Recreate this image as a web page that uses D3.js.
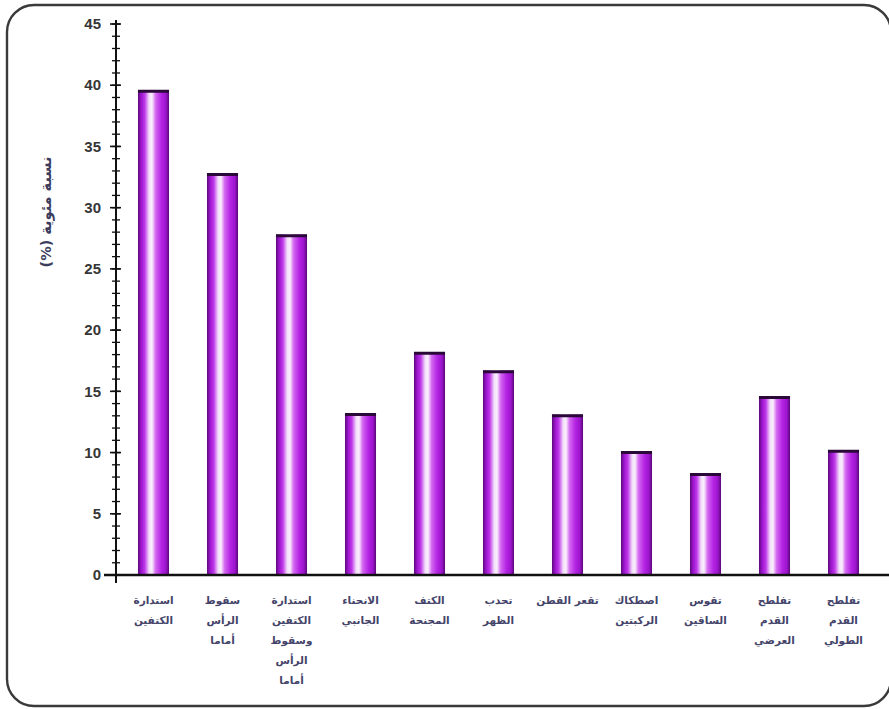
<!DOCTYPE html>
<html>
<head>
<meta charset="utf-8">
<script src="https://cdn.jsdelivr.net/npm/d3@7"></script>
<style>
  html, body { margin: 0; padding: 0; background: #ffffff; }
  svg { display: block; }
</style>
</head>
<body>
<svg id="chart" width="889" height="709"></svg>
<script>
// Posture deformities and their percentage share
const categories = [
  "استدارة الكتفين",
  "سقوط الرأس أماما",
  "استدارة الكتفين وسقوط الرأس أماما",
  "الانحناء الجانبي",
  "الكتف المجنحة",
  "تحدب الظهر",
  "تقعر القطن",
  "اصطكاك الركبتين",
  "تقوس الساقين",
  "تفلطح القدم العرضي",
  "تفلطح القدم الطولي"
];
const values = [39.6, 32.8, 27.8, 13.2, 18.2, 16.7, 13.1, 10.1, 8.3, 14.6, 10.2];
// Category labels as they wrap under each bar
const labelLines = [
  ["استدارة", "الكتفين"],
  ["سقوط", "الرأس", "أماما"],
  ["استدارة", "الكتفين", "وسقوط", "الرأس", "أماما"],
  ["الانحناء", "الجانبي"],
  ["الكتف", "المجنحة"],
  ["تحدب", "الظهر"],
  ["تقعر القطن"],
  ["اصطكاك", "الركبتين"],
  ["تقوس", "الساقين"],
  ["تفلطح", "القدم", "العرضي"],
  ["تفلطح", "القدم", "الطولي"]
];
const yTicks = [0, 5, 10, 15, 20, 25, 30, 35, 40, 45];
const yTitle = "نسبة مئوية (%)";

const svg = d3.select("#chart");

// Frame with rounded corners
const fx = 7, fy = 5, fw = 884, fh = 701, r = 27;
svg.append("rect")
  .attr("x", fx).attr("y", fy).attr("width", fw).attr("height", fh)
  .attr("rx", r).attr("ry", r)
  .attr("fill", "none").attr("stroke", "#3a3a3a").attr("stroke-width", 2.4);

const axisX = 116, yTop = 24, yBase = 575;

const x = d3.scaleBand()
  .domain(d3.range(categories.length))
  .range([119, 878])
  .paddingInner(0.55)
  .paddingOuter(0.275);

const y = d3.scaleLinear().domain([0, 45]).range([yBase, yTop]);

// Bar shading
const defs = svg.append("defs");
const grad = defs.append("linearGradient")
  .attr("id", "barGrad").attr("x1", "0%").attr("x2", "100%").attr("y1", "0%").attr("y2", "0%");
[
  [0, "#5c0a7a"], [0.1, "#9c14cc"], [0.22, "#c038ea"], [0.36, "#f2def9"],
  [0.45, "#faf0fd"], [0.57, "#d468f0"], [0.75, "#b424e4"], [0.9, "#9c14cc"], [1, "#5a0876"]
].forEach(([o, c]) => grad.append("stop").attr("offset", o).attr("stop-color", c));

const bars = svg.append("g");
bars.selectAll("rect.bar")
  .data(values)
  .join("rect")
  .attr("class", "bar")
  .attr("x", (d, i) => x(i))
  .attr("y", d => y(d))
  .attr("width", x.bandwidth())
  .attr("height", d => yBase - y(d))
  .attr("fill", "url(#barGrad)");

// Dark cap on each bar
bars.selectAll("line.cap")
  .data(values)
  .join("line")
  .attr("class", "cap")
  .attr("x1", (d, i) => x(i))
  .attr("x2", (d, i) => x(i) + x.bandwidth())
  .attr("y1", d => y(d) + 1.2)
  .attr("y2", d => y(d) + 1.2)
  .attr("stroke", "#2a0838").attr("stroke-width", 3);

// X axis baseline
svg.append("line")
  .attr("x1", 104).attr("x2", 889)
  .attr("y1", yBase).attr("y2", yBase)
  .attr("stroke", "#111").attr("stroke-width", 2.5);
svg.append("line")
  .attr("x1", axisX).attr("x2", axisX)
  .attr("y1", yBase).attr("y2", yBase + 8)
  .attr("stroke", "#111").attr("stroke-width", 2);

// Y axis with minor ticks crossing the line
const yAxisG = svg.append("g").attr("transform", `translate(${axisX},0)`);
yAxisG.append("line")
  .attr("x1", 0).attr("x2", 0).attr("y1", y(45) - 4).attr("y2", yBase + 3)
  .attr("stroke", "#111").attr("stroke-width", 2);
yAxisG.selectAll("line.minor")
  .data(d3.range(0, 46))
  .join("line")
  .attr("class", "minor")
  .attr("x1", -4).attr("x2", 4)
  .attr("y1", d => y(d)).attr("y2", d => y(d))
  .attr("stroke", "#111").attr("stroke-width", 1.3);
yAxisG.selectAll("line.major")
  .data(yTicks)
  .join("line")
  .attr("class", "major")
  .attr("x1", -6).attr("x2", 5)
  .attr("y1", d => y(d)).attr("y2", d => y(d))
  .attr("stroke", "#111").attr("stroke-width", 1.6);
yAxisG.selectAll("text.tick")
  .data(yTicks)
  .join("text")
  .attr("class", "tick")
  .attr("x", -15)
  .attr("y", d => y(d))
  .attr("dy", "0.35em")
  .attr("text-anchor", "end")
  .attr("font-family", "Liberation Sans, Arial, sans-serif")
  .attr("font-weight", "bold")
  .attr("font-size", 15)
  .attr("fill", "#363636")
  .text(d => d);

// Y axis title
svg.append("text")
  .attr("transform", "translate(46,212) rotate(-90)")
  .attr("text-anchor", "middle")
  .attr("dy", "0.35em")
  .attr("font-family", "DejaVu Sans, sans-serif")
  .attr("font-weight", "bold")
  .attr("font-size", 14.5)
  .attr("fill", "#3c3c5c")
  .attr("direction", "rtl")
  .text(yTitle);

// Category labels
const lab = svg.append("g");
labelLines.forEach((lines, i) => {
  const t = lab.append("text")
    .attr("text-anchor", "middle")
    .attr("font-family", "DejaVu Sans, sans-serif")
    .attr("font-weight", "bold")
    .attr("font-size", 10.5)
    .attr("fill", "#44446a")
    .attr("direction", "rtl");
  lines.forEach((ln, k) => {
    t.append("tspan")
      .attr("x", x(i) + x.bandwidth() / 2)
      .attr("y", 604 + k * 20)
      .text(ln);
  });
});
</script>
</body>
</html>
